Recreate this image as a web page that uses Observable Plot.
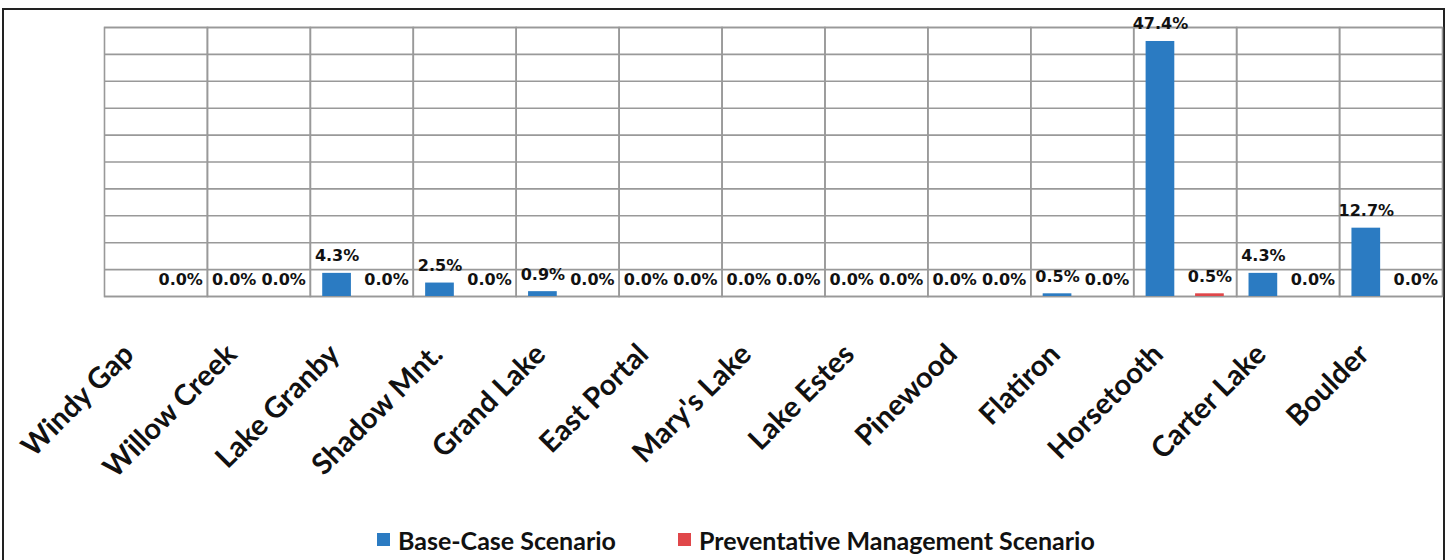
<!DOCTYPE html>
<html>
<head>
<meta charset="utf-8">
<script src="https://cdn.jsdelivr.net/npm/d3@7"></script>
<script src="https://cdn.jsdelivr.net/npm/@observablehq/plot@0.6"></script>
<style>
  html, body { margin: 0; padding: 0; background: #fff; }
  #wrap { position: relative; width: 1449px; height: 560px; overflow: hidden; }
  #border { position: absolute; left: 2px; top: 8px; width: 1443px; height: 600px; border: 2px solid #222; box-sizing: border-box; }
  #chart { position: absolute; left: 0; top: 0; }
  #legend { position: absolute; left: 377px; top: 523px; }
  .lg-swatch { margin-right: 62px !important; font-family: Lato, sans-serif; font-weight: 700; font-size: 25px; color: #111; }
  .lg-swatch > svg { margin-right: 8px !important; }
</style>
</head>
<body>
<div id="wrap">
  <div id="border"></div>
  <div id="chart"></div>
  <div id="legend"></div>
</div>
<script>
const categories = ["Windy Gap", "Willow Creek", "Lake Granby", "Shadow Mnt.", "Grand Lake", "East Portal", "Mary's Lake", "Lake Estes", "Pinewood", "Flatiron", "Horsetooth", "Carter Lake", "Boulder"];
const series = ["Base-Case Scenario", "Preventative Management Scenario"];
const baseCase = [0, 0, 4.3, 2.5, 0.9, 0, 0, 0, 0, 0.5, 47.4, 4.3, 12.7];
const preventative = [0, 0, 0, 0, 0, 0, 0, 0, 0, 0, 0.5, 0, 0];
const baseLabels = ["", "0.0%", "4.3%", "2.5%", "0.9%", "0.0%", "0.0%", "0.0%", "0.0%", "0.5%", "47.4%", "4.3%", "12.7%"];
const prevLabels = ["0.0%", "0.0%", "0.0%", "0.0%", "0.0%", "0.0%", "0.0%", "0.0%", "0.0%", "0.0%", "0.5%", "0.0%", "0.0%"];
const yTicks = [0, 5, 10, 15, 20, 25, 30, 35, 40, 45, 50];
const colors = ["#2b7bc2", "#e0474a"];

const data = categories.flatMap((c, i) => [
  {cat: c, series: series[0], value: baseCase[i], label: baseLabels[i]},
  {cat: c, series: series[1], value: preventative[i], label: prevLabels[i]}
]);

const chart = Plot.plot({
  width: 1449,
  height: 515,
  marginLeft: 104,
  marginRight: 7,
  marginTop: 27,
  marginBottom: 219,
  fx: {domain: categories, padding: 0, round: false, label: null},
  x: {domain: series, paddingInner: 0.42, paddingOuter: 0.25, round: false, axis: null},
  y: {domain: [0, 50], axis: null},
  color: {domain: series, range: colors},
  style: {background: "transparent"},
  marks: [
    Plot.gridY(yTicks, {stroke: "#999", strokeOpacity: 1, strokeWidth: 1.6}),
    Plot.frame({stroke: "#999", strokeWidth: 1.6}),
    Plot.barY(data, {fx: "cat", x: "series", y: "value", fill: "series"}),
    Plot.text(data, {fx: "cat", x: "series", y: "value", text: "label", lineAnchor: "bottom", dy: -12,
      fontSize: 16, fontWeight: "bold", fontFamily: "DejaVu Sans", fill: "#111"}),
    Plot.axisFx({anchor: "bottom", tickRotate: -45, tickSize: 0, tickPadding: 53, dx: -27,
      fontSize: 29, fontWeight: "bold", fontFamily: "Lato", fill: "#111", label: null})
  ]
});
document.getElementById("chart").appendChild(chart);

const legend = Plot.legend({
  color: {type: "categorical", domain: series, range: colors},
  swatchSize: 13,
  className: "lg"
});
document.getElementById("legend").appendChild(legend);
</script>
</body>
</html>
